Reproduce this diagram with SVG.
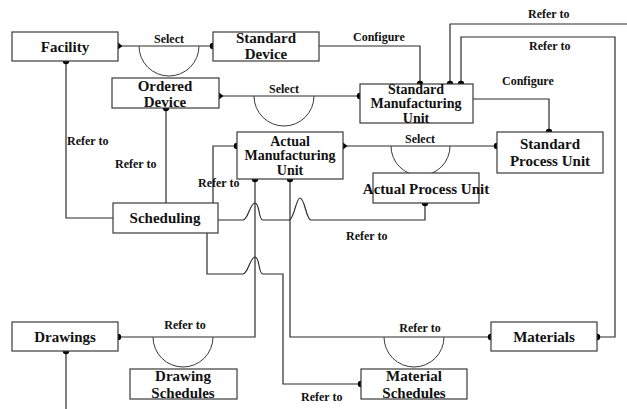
<svg xmlns="http://www.w3.org/2000/svg" width="627" height="409" viewBox="0 0 627 409">
  <style>
    .box { fill: #ffffff; stroke: #3a3a3a; stroke-width: 1.2; }
    .ln { fill: none; stroke: #2a2a2a; stroke-width: 1.2; }
    .arc { fill: none; stroke: #3a3a3a; stroke-width: 1; }
    .t { font-family: "Liberation Serif", "Times New Roman", serif; font-weight: bold; font-size: 15px; fill: #111; text-anchor: middle; }
    .t3 { font-size: 14px; }
    .lbl { font-family: "Liberation Serif", "Times New Roman", serif; font-weight: bold; font-size: 12px; fill: #111; }
    .dot { fill: #000; }
  </style>
  <defs>
    <circle id="dot" r="3.2" class="dot"/>
    <path id="dia" d="M-4.5,0 L0,-3.5 L4.5,0 L0,3.5 Z" class="dot"/>
  </defs>
  <rect width="627" height="409" fill="#ffffff"/>

  <!-- connectors -->
  <g id="connectors">
    <!-- Facility - Standard Device (Select) -->
    <path class="ln" d="M118,46 H213"/>
    <path class="arc" d="M139,46 A30,30 0 0 0 199,46"/>
    <text class="lbl" x="169" y="43" text-anchor="middle">Select</text>
    <use href="#dia" x="118" y="46"/>
    <use href="#dot" x="213" y="46"/>

    <!-- Ordered Device - Standard Manufacturing Unit (Select) -->
    <path class="ln" d="M219,96 H360"/>
    <path class="arc" d="M254,96 A30,30 0 0 0 314,96"/>
    <text class="lbl" x="284" y="93" text-anchor="middle">Select</text>
    <use href="#dia" x="219" y="96"/>
    <use href="#dot" x="360" y="96"/>

    <!-- Standard Device - Standard Manufacturing Unit (Configure) -->
    <path class="ln" d="M319,46 H420 V84"/>
    <text class="lbl" x="353" y="41">Configure</text>
    <use href="#dot" x="420" y="84"/>

    <!-- Standard Manufacturing Unit refer-to lines -->
    <path class="ln" d="M450,84 V24 H627"/>
    <text class="lbl" x="528" y="18">Refer to</text>
    <use href="#dot" x="450" y="84"/>
    <path class="ln" d="M461,84 V37 H615 V337 H597"/>
    <text class="lbl" x="529" y="50">Refer to</text>
    <use href="#dot" x="461" y="84"/>
    <use href="#dot" x="597" y="337"/>

    <!-- Standard Manufacturing Unit - Standard Process Unit (Configure) -->
    <path class="ln" d="M473,99 H549 V132"/>
    <text class="lbl" x="502" y="85">Configure</text>
    <use href="#dot" x="549" y="132"/>

    <!-- Actual Manufacturing Unit - Standard Process Unit (Select) -->
    <path class="ln" d="M343,146 H497"/>
    <path class="arc" d="M391,146 A29.5,29.5 0 0 0 450,146"/>
    <text class="lbl" x="420" y="143" text-anchor="middle">Select</text>
    <use href="#dia" x="343" y="146"/>
    <use href="#dot" x="497" y="146"/>

    <!-- Facility - Scheduling -->
    <path class="ln" d="M66,61 V218 H113"/>
    <text class="lbl" x="67" y="145">Refer to</text>
    <use href="#dot" x="66" y="61"/>

    <!-- Ordered Device - Scheduling -->
    <path class="ln" d="M166,108 V203"/>
    <text class="lbl" x="115" y="168">Refer to</text>
    <use href="#dot" x="166" y="108"/>

    <!-- Scheduling - Actual Manufacturing Unit -->
    <path class="ln" d="M213,203 V146 H237"/>
    <text class="lbl" x="198" y="187">Refer to</text>
    <use href="#dot" x="237" y="146"/>

    <!-- Scheduling - Actual Process Unit -->
    <path class="ln" d="M218,220 H243 C248,220 250,203 255,203 C260,203 258,220 263,220 H289 C294,220 296,198 300,198 C305,198 306,220 311,220 H425 V203"/>
    <text class="lbl" x="346" y="240">Refer to</text>
    <use href="#dot" x="425" y="203"/>

    <!-- Scheduling - Material Schedules -->
    <path class="ln" d="M207,233 V274 H243 C248,274 250,257 255,257 C260,257 258,274 263,274 H283 V384 H361"/>
    <text class="lbl" x="301" y="401">Refer to</text>
    <use href="#dot" x="361" y="384"/>

    <!-- Drawings - Actual Manufacturing Unit (Drawing Schedules) -->
    <path class="ln" d="M118,337 H255 V179"/>
    <path class="arc" d="M153,337 A30,30 0 0 0 213,337"/>
    <text class="lbl" x="185" y="329" text-anchor="middle">Refer to</text>
    <use href="#dot" x="118" y="337"/>
    <use href="#dot" x="255" y="179"/>

    <!-- Actual Manufacturing Unit - Materials (Material Schedules) -->
    <path class="ln" d="M290,179 V337 H491"/>
    <path class="arc" d="M384,337 A30,30 0 0 0 444,337"/>
    <text class="lbl" x="420" y="332" text-anchor="middle">Refer to</text>
    <use href="#dot" x="290" y="179"/>
    <use href="#dot" x="491" y="337"/>

    <!-- Drawings outgoing line -->
    <path class="ln" d="M66,351 V409"/>
    <use href="#dot" x="66" y="351"/>
  </g>

  <!-- nodes -->
  <g id="facility">
    <rect class="box" x="12" y="32" width="106" height="29"/>
    <text class="t" x="65" y="52">Facility</text>
  </g>
  <g id="standard-device">
    <rect class="box" x="213" y="32" width="106" height="29"/>
    <text class="t" x="266" y="43">Standard</text>
    <text class="t" x="266" y="59">Device</text>
  </g>
  <g id="ordered-device">
    <rect class="box" x="112" y="78" width="107" height="30"/>
    <text class="t" x="165" y="91">Ordered</text>
    <text class="t" x="165" y="107">Device</text>
  </g>
  <g id="standard-manufacturing-unit">
    <rect class="box" x="360" y="84" width="113" height="39"/>
    <text class="t t3" x="416" y="93.5">Standard</text>
    <text class="t t3" x="416" y="108">Manufacturing</text>
    <text class="t t3" x="416" y="122.5">Unit</text>
  </g>
  <g id="actual-manufacturing-unit">
    <rect class="box" x="237" y="132" width="106" height="47"/>
    <text class="t t3" x="290" y="145.5">Actual</text>
    <text class="t t3" x="290" y="160">Manufacturing</text>
    <text class="t t3" x="290" y="174.5">Unit</text>
  </g>
  <g id="standard-process-unit">
    <rect class="box" x="497" y="132" width="106" height="41"/>
    <text class="t" x="550" y="149">Standard</text>
    <text class="t" x="550" y="166">Process Unit</text>
  </g>
  <g id="actual-process-unit">
    <rect class="box" x="373" y="173" width="106" height="30"/>
    <text class="t" x="426" y="194">Actual Process Unit</text>
  </g>
  <g id="scheduling">
    <rect class="box" x="113" y="203" width="105" height="30"/>
    <text class="t" x="165" y="223">Scheduling</text>
  </g>
  <g id="drawings">
    <rect class="box" x="12" y="322" width="106" height="29"/>
    <text class="t" x="65" y="342">Drawings</text>
  </g>
  <g id="drawing-schedules">
    <rect class="box" x="130" y="369" width="107" height="30"/>
    <text class="t" x="183" y="381">Drawing</text>
    <text class="t" x="183" y="398">Schedules</text>
  </g>
  <g id="materials">
    <rect class="box" x="491" y="322" width="106" height="29"/>
    <text class="t" x="544" y="342">Materials</text>
  </g>
  <g id="material-schedules">
    <rect class="box" x="361" y="369" width="106" height="30"/>
    <text class="t" x="414" y="381">Material</text>
    <text class="t" x="414" y="398">Schedules</text>
  </g>
</svg>
